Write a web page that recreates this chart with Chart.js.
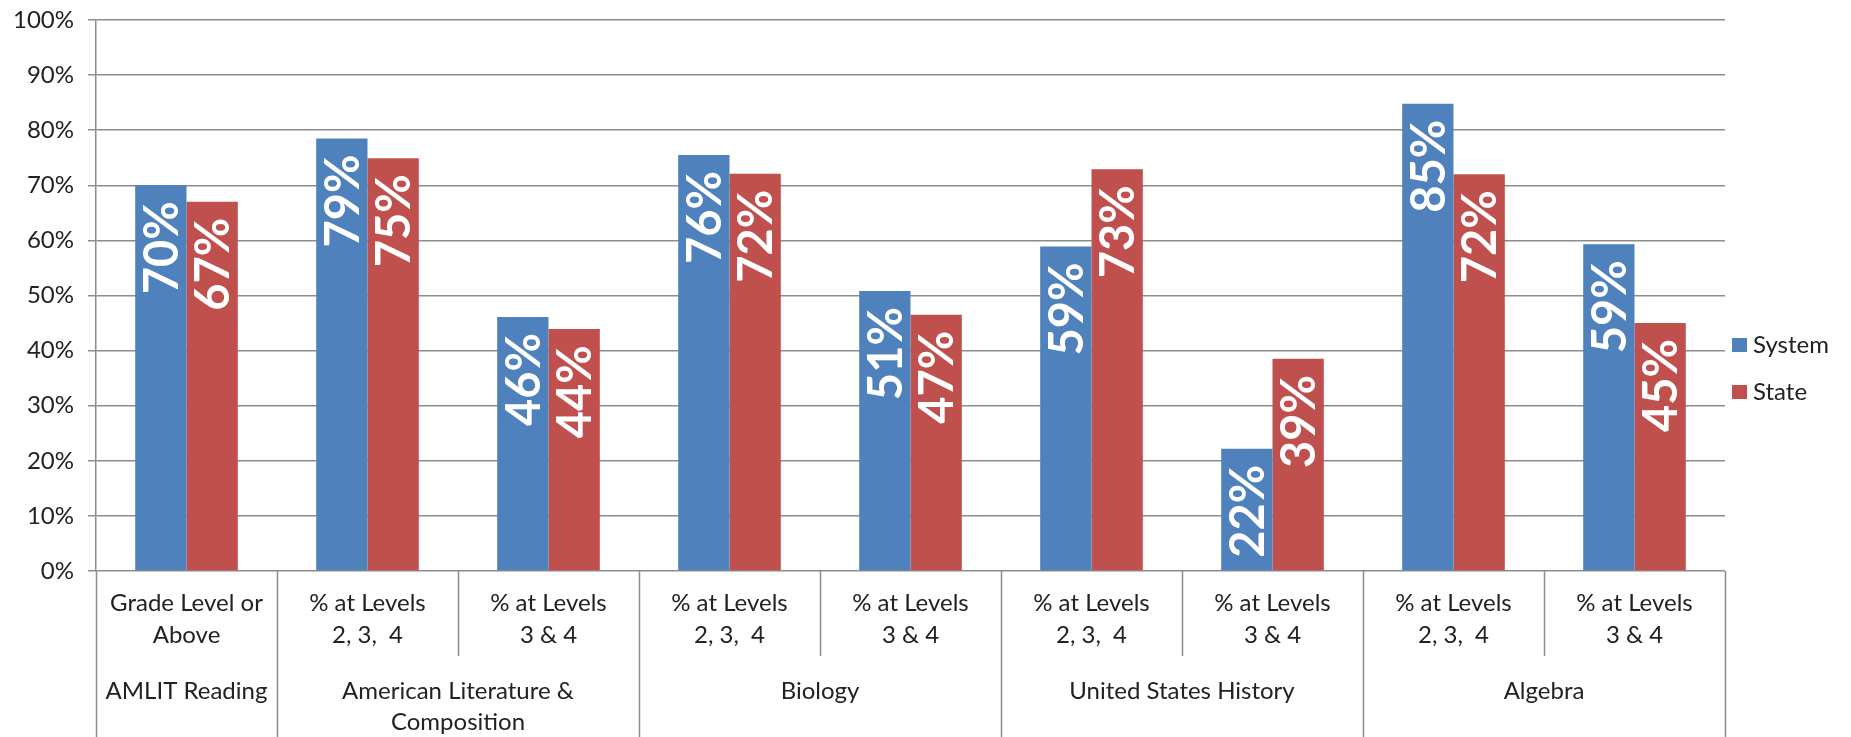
<!DOCTYPE html>
<html>
<head>
<meta charset="utf-8">
<script src="https://cdn.jsdelivr.net/npm/chart.js@4"></script>
<style>
  body { margin: 0; background: #fff; }
  canvas { display: block; }
</style>
</head>
<body>
<canvas id="scoreChart" width="1851" height="737"></canvas>
<script>
const categories = [
    ["Grade Level or", "Above"],
    ["% at Levels", "2, 3,  4"],
    ["% at Levels", "3 & 4"],
    ["% at Levels", "2, 3,  4"],
    ["% at Levels", "3 & 4"],
    ["% at Levels", "2, 3,  4"],
    ["% at Levels", "3 & 4"],
    ["% at Levels", "2, 3,  4"],
    ["% at Levels", "3 & 4"],
];
const groupLabels = [
    ["AMLIT Reading"],
    ["American Literature &", "Composition"],
    ["Biology"],
    ["United States History"],
    ["Algebra"],
];
const groupSizes = [1, 2, 2, 2, 2];
const systemValues = [70.0, 78.5, 46.1, 75.5, 50.8, 58.9, 22.2, 84.8, 59.3];
const stateValues = [67.0, 74.9, 43.9, 72.1, 46.5, 72.9, 38.5, 72.0, 45.0];
const yTicks = [0, 10, 20, 30, 40, 50, 60, 70, 80, 90, 100];

const fontFamily = "Lato, 'Noto Sans', sans-serif";
const textColor = "#222222";
const lineColor = "#8c8c8c";

// bar value labels, rotated, white, inside the top of each bar
const barLabels = {
    id: "barLabels",
    afterDatasetsDraw(chart) {
        const ctx = chart.ctx;
        ctx.save();
        ctx.fillStyle = "#ffffff";
        ctx.font = "bold 47px " + fontFamily;
        ctx.textAlign = "right";
        ctx.textBaseline = "middle";
        chart.data.datasets.forEach((ds, di) => {
            const meta = chart.getDatasetMeta(di);
            meta.data.forEach((bar, i) => {
                const label = Math.round(ds.data[i]) + "%";
                ctx.save();
                ctx.translate(bar.x + 2, bar.y + 16);
                ctx.rotate(-Math.PI / 2);
                ctx.fillText(label, 0, 0);
                ctx.restore();
            });
        });
        ctx.restore();
    },
};

// separators and group names under the category axis, plus the legend
const axisGroups = {
    id: "axisGroups",
    afterDraw(chart) {
        const ctx = chart.ctx;
        const xScale = chart.scales.x;
        const bottom = xScale.top;
        const h = chart.height;

        let groupEdges = [0];
        groupSizes.forEach((n) => groupEdges.push(groupEdges[groupEdges.length - 1] + n));

        ctx.save();
        ctx.strokeStyle = lineColor;
        ctx.lineWidth = 1.5;
        for (let i = 0; i <= categories.length; i++) {
            const x = Math.round(xScale.getPixelForValue(i - 0.5)) + 0.5;
            const isGroupEdge = groupEdges.includes(i);
            ctx.beginPath();
            ctx.moveTo(x, bottom);
            ctx.lineTo(x, isGroupEdge ? h : bottom + 85);
            ctx.stroke();
        }

        ctx.fillStyle = textColor;
        ctx.font = "24px " + fontFamily;
        ctx.textAlign = "center";
        ctx.textBaseline = "middle";
        groupLabels.forEach((lines, g) => {
            const start = groupEdges[g];
            const end = groupEdges[g + 1] - 1;
            const x = (xScale.getPixelForValue(start) + xScale.getPixelForValue(end)) / 2;
            lines.forEach((line, k) => {
                ctx.fillText(line, x, bottom + 120 + k * 31);
            });
        });

        // legend
        const legendX = chart.chartArea.right + 7;
        const midY = h / 2;
        chart.data.datasets.forEach((ds, di) => {
            const y = midY - 23.5 + di * 47;
            ctx.fillStyle = ds.backgroundColor;
            ctx.fillRect(legendX, y - 7, 15, 14);
            ctx.fillStyle = textColor;
            ctx.textAlign = "left";
            ctx.fillText(ds.label, legendX + 21, y);
        });
        ctx.restore();
    },
};

let scoreChart;

function plotScoreChart() {
    let ctx = document.getElementById("scoreChart").getContext("2d");
    scoreChart = new Chart(ctx, {
        type: "bar",
        data: {
            labels: categories,
            datasets: [
                {
                    label: "System",
                    data: systemValues,
                    backgroundColor: "#4F81BD", // Blue
                },
                {
                    label: "State",
                    data: stateValues,
                    backgroundColor: "#C0504D", // Red
                },
            ],
        },
        options: {
            responsive: false,
            animation: false,
            devicePixelRatio: 1,
            categoryPercentage: 0.567,
            barPercentage: 1.0,
            layout: {
                padding: { top: 20, right: 126, left: 0, bottom: 0 },
            },
            plugins: {
                legend: { display: false },
                tooltip: { enabled: false },
            },
            scales: {
                x: {
                    grid: { display: false, drawTicks: false },
                    border: { display: false },
                    ticks: {
                        color: textColor,
                        font: { family: fontFamily, size: 24, lineHeight: 1.3 },
                        padding: 17,
                        maxRotation: 0,
                        autoSkip: false,
                    },
                    afterFit(scale) {
                        scale.height = 166;
                        scale.paddingLeft = 0;
                        scale.paddingRight = 0;
                    },
                },
                y: {
                    min: 0,
                    max: 100,
                    afterBuildTicks(scale) {
                        scale.ticks = yTicks.map((v) => ({ value: v }));
                    },
                    ticks: {
                        color: textColor,
                        font: { family: fontFamily, size: 24 },
                        padding: 14,
                        callback: (v) => v + "%",
                    },
                    grid: { color: lineColor, lineWidth: 1.5, tickLength: 8 },
                    border: { color: lineColor, width: 1.5 },
                    afterFit(scale) {
                        scale.width = 96;
                        scale.paddingTop = 0;
                        scale.paddingBottom = 0;
                    },
                },
            },
        },
        plugins: [barLabels, axisGroups],
    });
}

plotScoreChart();
</script>
</body>
</html>
